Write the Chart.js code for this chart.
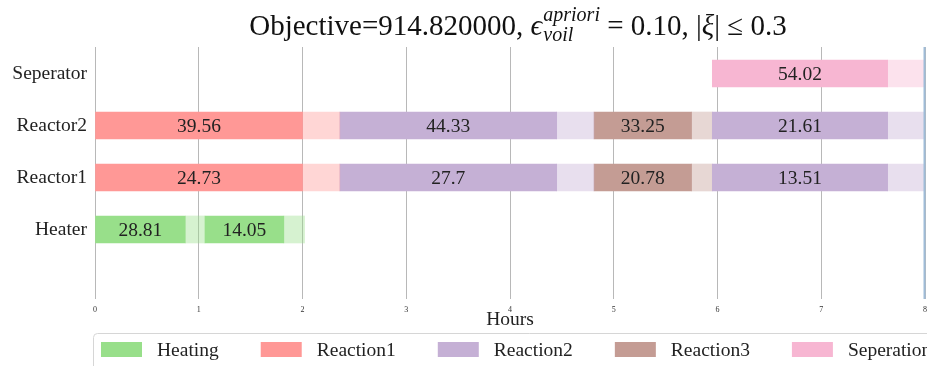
<!DOCTYPE html>
<html><head><meta charset="utf-8">
<script src="https://cdn.jsdelivr.net/npm/chart.js@4.4.1/dist/chart.umd.min.js"></script>
<style>html,body{margin:0;padding:0;overflow:hidden;background:#fff;width:927px;height:366px}canvas{display:block}</style>
</head><body>
<canvas id="c" width="960" height="366"></canvas>
<script>
// ---- data ----
const rows = ['Heater', 'Reactor1', 'Reactor2', 'Seperator'];
const taskTypes = ['Heating', 'Reaction1', 'Reaction2', 'Reaction3', 'Seperation'];
const typeColors = ['#98df8a', '#ff9896', '#c5b0d5', '#c49c94', '#f7b6d2'];
const slackColors = ['rgba(152,223,138,0.4)', 'rgba(255,152,150,0.4)', 'rgba(197,176,213,0.4)', 'rgba(196,156,148,0.4)', 'rgba(247,182,210,0.4)'];
const taskRow   = ['Heater','Heater','Reactor1','Reactor1','Reactor1','Reactor1','Reactor2','Reactor2','Reactor2','Reactor2','Seperator'];
const taskType  = ['Heating','Heating','Reaction1','Reaction2','Reaction3','Reaction2','Reaction1','Reaction2','Reaction3','Reaction2','Seperation'];
const taskStart = [0, 1.06, 0, 2.36, 4.81, 5.95, 0, 2.36, 4.81, 5.95, 5.95];
const taskEnd   = [0.87, 1.82, 2.0, 4.45, 5.75, 7.64, 2.0, 4.45, 5.75, 7.64, 7.64];
const slackEnd  = [1.06, 2.02, 2.36, 4.81, 5.95, 8.0, 2.36, 4.81, 5.95, 8.0, 8.0];
const taskValue = ['28.81','14.05','24.73','27.7','20.78','13.51','39.56','44.33','33.25','21.61','54.02'];
const xTicks = [0, 1, 2, 3, 4, 5, 6, 7, 8];
const makespan = 8;
const xLabel = 'Hours';
const titleMain = 'Objective=914.820000, ';
const titleSym = 'ϵ';
const titleSup = 'apriori';
const titleSub = 'voil';
const titleRest1 = ' = 0.10, |';
const titleXi = 'ξ';
const titleRest2 = '| ≤ 0.3';

const FONT = "'Liberation Serif', 'DejaVu Serif', serif";
Chart.defaults.font.family = FONT;

// ---- datasets ----
const datasets = [];
taskTypes.forEach((t, k) => {
  const solid = [], slack = [];
  taskType.forEach((tt, i) => {
    if (tt !== t) return;
    const y = rows.indexOf(taskRow[i]) + 1;
    solid.push({ x: [taskStart[i], taskEnd[i]], y: y, v: taskValue[i] });
    slack.push({ x: [taskEnd[i], slackEnd[i]], y: y });
  });
  datasets.push({ label: t, data: solid, backgroundColor: typeColors[k], isSolid: true });
  datasets.push({ label: t + ' slack', data: slack, backgroundColor: slackColors[k], isSolid: false });
});

// ---- plugins ----
const labelPlugin = {
  id: 'barLabels',
  afterDatasetsDraw(chart) {
    const ctx = chart.ctx;
    ctx.save();
    ctx.font = '19.5px ' + FONT;
    ctx.fillStyle = '#222';
    ctx.textAlign = 'center';
    ctx.textBaseline = 'alphabetic';
    chart.data.datasets.forEach((ds, di) => {
      if (!ds.isSolid) return;
      const meta = chart.getDatasetMeta(di);
      meta.data.forEach((el, j) => {
        const p = el.getProps(['x', 'base', 'y'], true);
        ctx.fillText(ds.data[j].v, (p.x + p.base) / 2, p.y + 6.5);
      });
    });
    // makespan line
    const xs = chart.scales.x;
    const px = Math.round(xs.getPixelForValue(makespan)) - 0.5;
    ctx.strokeStyle = '#9fbcd8';
    ctx.lineWidth = 2;
    ctx.beginPath();
    ctx.moveTo(px, chart.chartArea.top);
    ctx.lineTo(px, chart.chartArea.bottom);
    ctx.stroke();
    ctx.restore();
  }
};

const titlePlugin = {
  id: 'mathTitle',
  afterDraw(chart) {
    const ctx = chart.ctx;
    const big = '29px ' + FONT, bigI = 'italic 29px ' + FONT, small = 'italic 20px ' + FONT;
    ctx.save();
    ctx.fillStyle = '#111';
    ctx.textBaseline = 'alphabetic';
    ctx.textAlign = 'left';
    const w = (f, t) => { ctx.font = f; return ctx.measureText(t).width; };
    const wScript = Math.max(w(small, titleSup), w(small, titleSub));
    const total = w(big, titleMain) + w(bigI, titleSym) + 1 + wScript + w(big, titleRest1) + w(bigI, titleXi) + w(big, titleRest2);
    const ca = chart.chartArea;
    let x = (ca.left + ca.right) / 2 + 8 - total / 2;
    const base = 35;
    ctx.font = big; ctx.fillText(titleMain, x, base); x += w(big, titleMain);
    ctx.font = bigI; ctx.fillText(titleSym, x, base); x += w(bigI, titleSym) + 1;
    ctx.font = small; ctx.fillText(titleSup, x, 21); ctx.fillText(titleSub, x, 41); x += wScript;
    ctx.font = big; ctx.fillText(titleRest1, x, base); x += w(big, titleRest1);
    ctx.font = bigI; ctx.fillText(titleXi, x, base); x += w(bigI, titleXi);
    ctx.font = big; ctx.fillText(titleRest2, x, base);
    ctx.restore();
  }
};

const legendPlugin = {
  id: 'frameLegend',
  afterDraw(chart) {
    const ctx = chart.ctx;
    const top = chart.scales.x.bottom + 1;
    ctx.save();
    ctx.strokeStyle = '#d6d6d6';
    ctx.lineWidth = 1;
    ctx.beginPath();
    ctx.roundRect(93.5, top + 0.5, chart.width, 60, 4);
    ctx.stroke();
    ctx.font = '19.5px ' + FONT;
    ctx.textAlign = 'left';
    ctx.textBaseline = 'alphabetic';
    let x = 101;
    chart.data.datasets.forEach(ds => {
      if (!ds.isSolid) return;
      ctx.fillStyle = ds.backgroundColor;
      ctx.fillRect(x, top + 9, 41, 15);
      ctx.fillStyle = '#222';
      const tx = x + 41 + 15;
      ctx.fillText(ds.label, tx, top + 9 + 7.5 + 6.5);
      x = tx + ctx.measureText(ds.label).width + 42;
    });
    ctx.restore();
  }
};

new Chart(document.getElementById('c'), {
  type: 'bar',
  data: { datasets },
  options: {
    indexAxis: 'y',
    responsive: false,
    animation: false,
    devicePixelRatio: 1,
    layout: { padding: { top: 47, right: 35, bottom: 34, left: 0 } },
    datasets: { bar: { barThickness: 27, grouped: false, borderWidth: 0 } },
    plugins: { legend: { display: false }, tooltip: { enabled: false }, title: { display: false } },
    scales: {
      x: {
        type: 'linear', min: 0, max: 8,
        afterBuildTicks: s => { s.ticks = xTicks.map(v => ({ value: v })); },
        ticks: { font: { size: 8 }, color: '#333', padding: 6, maxRotation: 0 },
        grid: { color: '#b8b8b8', lineWidth: 1, drawTicks: false },
        border: { display: false },
        title: { display: true, text: xLabel, font: { size: 19.5 }, color: '#222', padding: 0 },
        afterFit: s => { s.height = 33; }
      },
      y: {
        type: 'linear', min: -0.337, max: 4.51, offset: false,
        afterBuildTicks: s => { s.ticks = rows.map((r, i) => ({ value: i + 1 })); },
        ticks: { callback: v => rows[v - 1] || '', font: { size: 19.5 }, color: '#222', padding: 8 },
        grid: { display: false, drawTicks: false },
        border: { display: false },
        afterFit: s => { s.width = 95; }
      }
    }
  },
  plugins: [labelPlugin, titlePlugin, legendPlugin]
});
</script>
</body></html>
